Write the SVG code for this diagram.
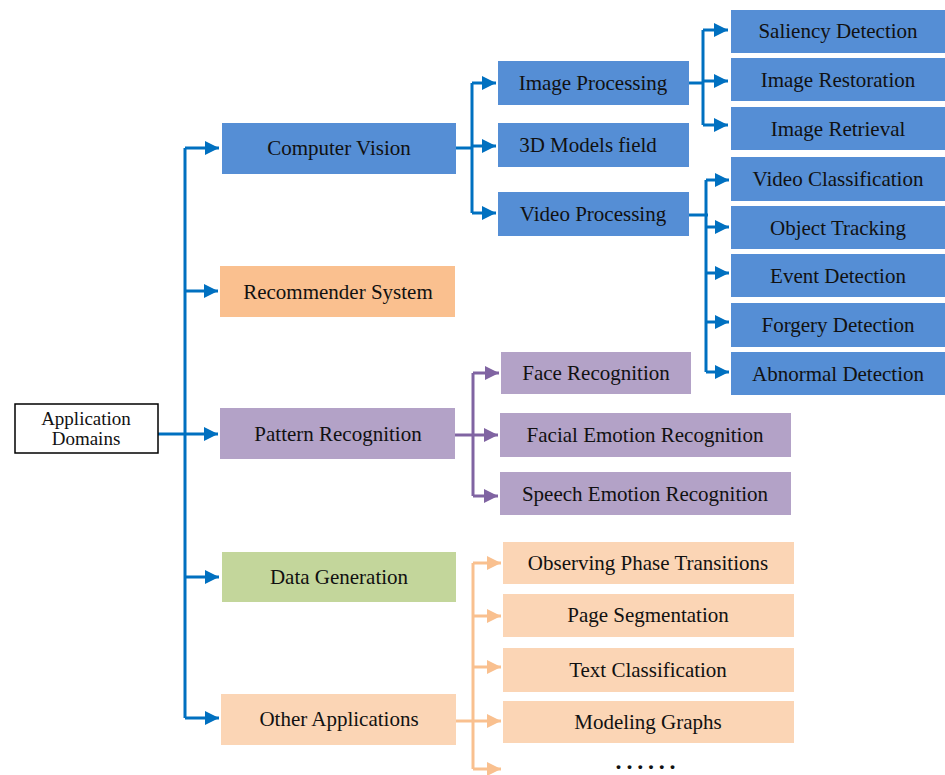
<svg xmlns="http://www.w3.org/2000/svg" width="945" height="775" viewBox="0 0 945 775">
<style>
text{font-family:"Liberation Serif","Times New Roman",serif;font-size:21px;fill:#111;text-anchor:middle}
.blue{fill:#558ED5}
.rec{fill:#FAC08F}
.pur{fill:#B3A2C7}
.grn{fill:#C3D69B}
.pch{fill:#FBD5B5}
.cb{stroke:#0070C0;stroke-width:3;fill:none}
.cp{stroke:#8064A2;stroke-width:3;fill:none}
.co{stroke:#F9C08F;stroke-width:3;fill:none}
.ab{marker-end:url(#mb)}
.ap{marker-end:url(#mp)}
.ao{marker-end:url(#mo)}
</style>
<defs>
<marker id="mb" viewBox="0 0 10 10" refX="10" refY="5" markerWidth="15" markerHeight="14" markerUnits="userSpaceOnUse" orient="auto"><path d="M0,0 L10,5 L0,10 z" fill="#0070C0"/></marker>
<marker id="mp" viewBox="0 0 10 10" refX="10" refY="5" markerWidth="15" markerHeight="14" markerUnits="userSpaceOnUse" orient="auto"><path d="M0,0 L10,5 L0,10 z" fill="#8064A2"/></marker>
<marker id="mo" viewBox="0 0 10 10" refX="10" refY="5" markerWidth="15" markerHeight="14" markerUnits="userSpaceOnUse" orient="auto"><path d="M0,0 L10,5 L0,10 z" fill="#F9C08F"/></marker>
</defs>
<rect width="945" height="775" fill="#fff"/>

<g id="connectors">
  <path class="cb" d="M158,434 H185"/>
  <path class="cb" d="M185,148 V718"/>
  <path class="cb ab" d="M185,148 H219"/>
  <path class="cb ab" d="M185,291 H218"/>
  <path class="cb ab" d="M185,434 H218"/>
  <path class="cb ab" d="M185,577 H219"/>
  <path class="cb ab" d="M185,718 H219"/>
  <path class="cb" d="M456,148 H472"/>
  <path class="cb" d="M472,83 V213"/>
  <path class="cb ab" d="M472,83 H496"/>
  <path class="cb ab" d="M472,146 H496"/>
  <path class="cb ab" d="M472,213 H496"/>
  <path class="cb" d="M689,83 H703"/>
  <path class="cb" d="M703,30 V125"/>
  <path class="cb ab" d="M703,30 H728"/>
  <path class="cb ab" d="M703,81 H728"/>
  <path class="cb ab" d="M703,125 H728"/>
  <path class="cb" d="M689,215 H708"/>
  <path class="cb" d="M706,180 V372"/>
  <path class="cb ab" d="M706,180 H729"/>
  <path class="cb ab" d="M706,227 H729"/>
  <path class="cb ab" d="M706,273 H729"/>
  <path class="cb ab" d="M706,322 H729"/>
  <path class="cb ab" d="M706,372 H729"/>
  <path class="cp" d="M455,435 H473"/>
  <path class="cp" d="M473,373 V496"/>
  <path class="cp ap" d="M473,373 H499"/>
  <path class="cp ap" d="M473,435 H498"/>
  <path class="cp ap" d="M473,496 H498"/>
  <path class="co" d="M456,721 H473"/>
  <path class="co" d="M473,563 V769"/>
  <path class="co ao" d="M473,563 H501"/>
  <path class="co ao" d="M473,616 H501"/>
  <path class="co ao" d="M473,667 H501"/>
  <path class="co ao" d="M473,721 H501"/>
  <path class="co ao" d="M473,769 H501"/>
</g>

<g id="root">
  <rect x="15" y="404" width="143" height="49" fill="#fff" stroke="#000" stroke-width="1.5"/>
  <text x="86" y="425" style="font-size:19px">Application</text>
  <text x="86" y="445" style="font-size:19px">Domains</text>
</g>

<g id="computer-vision"><rect class="blue" x="222" y="123" width="234" height="51"/><text x="339" y="155">Computer Vision</text></g>
<g id="recommender-system"><rect class="rec" x="220" y="266" width="235" height="51"/><text x="338" y="299">Recommender System</text></g>
<g id="pattern-recognition"><rect class="pur" x="220" y="408" width="235" height="51"/><text x="338" y="441">Pattern Recognition</text></g>
<g id="data-generation"><rect class="grn" x="222" y="552" width="234" height="50"/><text x="339" y="584">Data Generation</text></g>
<g id="other-applications"><rect class="pch" x="221" y="694" width="235" height="51"/><text x="339" y="726">Other Applications</text></g>

<g id="image-processing"><rect class="blue" x="498" y="61" width="191" height="44"/><text x="593" y="90">Image Processing</text></g>
<g id="3d-models"><rect class="blue" x="498" y="123" width="191" height="44"/><text x="588" y="152">3D Models field</text></g>
<g id="video-processing"><rect class="blue" x="498" y="192" width="191" height="44"/><text x="593" y="221">Video Processing</text></g>

<g id="saliency-detection"><rect class="blue" x="731" y="10" width="214" height="43"/><text x="838" y="38">Saliency Detection</text></g>
<g id="image-restoration"><rect class="blue" x="731" y="58" width="214" height="43"/><text x="838" y="87">Image Restoration</text></g>
<g id="image-retrieval"><rect class="blue" x="731" y="107" width="214" height="43"/><text x="838" y="136">Image Retrieval</text></g>
<g id="video-classification"><rect class="blue" x="731" y="157" width="214" height="44"/><text x="838" y="186">Video Classification</text></g>
<g id="object-tracking"><rect class="blue" x="731" y="206" width="214" height="43"/><text x="838" y="235">Object Tracking</text></g>
<g id="event-detection"><rect class="blue" x="731" y="254" width="214" height="43"/><text x="838" y="283">Event Detection</text></g>
<g id="forgery-detection"><rect class="blue" x="731" y="303" width="214" height="44"/><text x="838" y="332">Forgery Detection</text></g>
<g id="abnormal-detection"><rect class="blue" x="731" y="352" width="214" height="43"/><text x="838" y="381">Abnormal Detection</text></g>

<g id="face-recognition"><rect class="pur" x="501" y="352" width="190" height="42"/><text x="596" y="380">Face Recognition</text></g>
<g id="facial-emotion-recognition"><rect class="pur" x="500" y="413" width="291" height="44"/><text x="645" y="442">Facial Emotion Recognition</text></g>
<g id="speech-emotion-recognition"><rect class="pur" x="500" y="472" width="291" height="43"/><text x="645" y="501">Speech Emotion Recognition</text></g>

<g id="observing-phase-transitions"><rect class="pch" x="503" y="542" width="291" height="42"/><text x="648" y="570">Observing Phase Transitions</text></g>
<g id="page-segmentation"><rect class="pch" x="503" y="594" width="291" height="43"/><text x="648" y="622">Page Segmentation</text></g>
<g id="text-classification"><rect class="pch" x="503" y="648" width="291" height="44"/><text x="648" y="677">Text Classification</text></g>
<g id="modeling-graphs"><rect class="pch" x="503" y="701" width="291" height="42"/><text x="648" y="729">Modeling Graphs</text></g>
<g id="more"><text x="648" y="769" style="font-size:24px;font-weight:bold;letter-spacing:4.8px">......</text></g>
</svg>
